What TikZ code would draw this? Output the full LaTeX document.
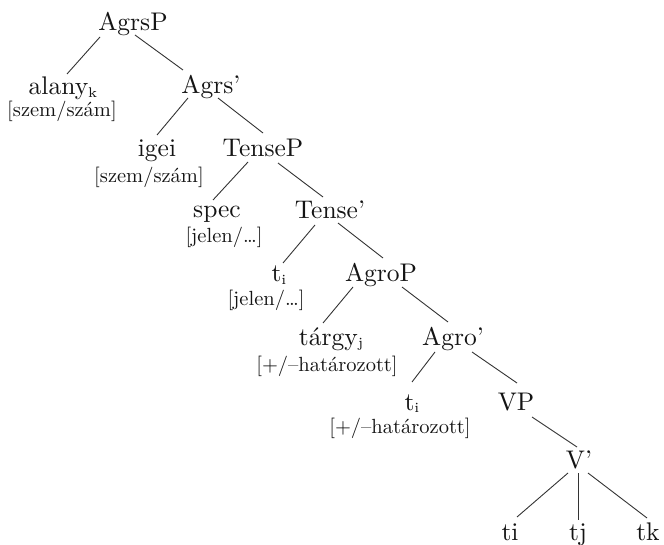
\documentclass[tikz,border=0pt]{standalone}
\usetikzlibrary{calc}
\newcommand\mysub[1]{\raisebox{-1pt}{\fontsize{5.5}{6}\selectfont #1}}
\newcommand\br[4]{\draw[branch] ([shift={#2}]#1.base) -- ([shift={#4}]#3.base);}
\begin{document}
\begin{tikzpicture}[x=1pt,y=-1pt,
  lbl/.style={anchor=base,inner sep=0pt,text=black!92,scale=2.55,transform shape,font=\fontsize{10}{12}\selectfont},
  feat/.style={anchor=base,inner sep=0pt,text=black!92,scale=2.05,transform shape,font=\fontsize{10}{12}\selectfont},
  branch/.style={line width=0.9pt,draw=black!80}]
\useasboundingbox (0,0) rectangle (664,545);
\node[lbl] (AgrsP) at (133,31) {AgrsP};
\node[lbl] (alany) at (63,95) {alany\mysub{k}};
\node[feat] (alanyF) at (62,117) {[szem/szám]};
\node[lbl] (Agrs) at (211,94) {Agrs'};
\node[lbl] (igei) at (157,157) {igei};
\node[feat] (igeiF) at (149,183) {[szem/szám]};
\node[lbl] (TenseP) at (263,157) {TenseP};
\node[lbl] (spec) at (217,218) {spec};
\node[feat] (specF) at (224,243) {[jelen/\ldots]};
\node[lbl] (Tense) at (330,219) {Tense'};
\node[lbl] (tiA) at (279,282) {t\mysub{i}};
\node[feat] (tiAF) at (266,306) {[jelen/\ldots]};
\node[lbl] (AgroP) at (381,282) {AgroP};
\node[lbl] (targy) at (331,345) {tárgy\mysub{j}};
\node[feat] (targyF) at (327,371) {[+/--határozott]};
\node[lbl] (Agro) at (453,345) {Agro'};
\node[lbl] (tiB) at (412,410) {t\mysub{i}};
\node[feat] (tiBF) at (400,433) {[+/--határozott]};
\node[lbl] (VP) at (516,410) {VP};
\node[lbl] (V) at (579,468) {V'};
\node[lbl] (ti) at (510,540) {ti};
\node[lbl] (tj) at (578,540) {tj};
\node[lbl] (tk) at (648,540) {tk};
\br{AgrsP}{(-33,6)}{alany}{(4,-21)}
\br{AgrsP}{(2,4)}{Agrs}{(-28,-24)}
\br{Agrs}{(-23,4)}{igei}{(0,-22)}
\br{Agrs}{(7,4)}{TenseP}{(0,-24)}
\br{TenseP}{(-15,5)}{spec}{(-4,-18)}
\br{TenseP}{(15,6)}{Tense}{(-7,-22)}
\br{Tense}{(-15,6)}{tiA}{(4,-19)}
\br{Tense}{(8,4)}{AgroP}{(2,-24)}
\br{AgroP}{(-28,5)}{targy}{(-8,-22)}
\br{AgroP}{(21,5)}{Agro}{(-5,-23)}
\br{Agro}{(-18,7)}{tiB}{(0,-28)}
\br{Agro}{(19,7)}{VP}{(1,-27)}
\br{VP}{(16,7)}{V}{(-2,-21)}
\br{V}{(-11,5)}{ti}{(7,-23)}
\br{V}{(-1,5)}{tj}{(0,-20)}
\br{V}{(9,5)}{tk}{(-1,-22)}
\end{tikzpicture}
\end{document}
